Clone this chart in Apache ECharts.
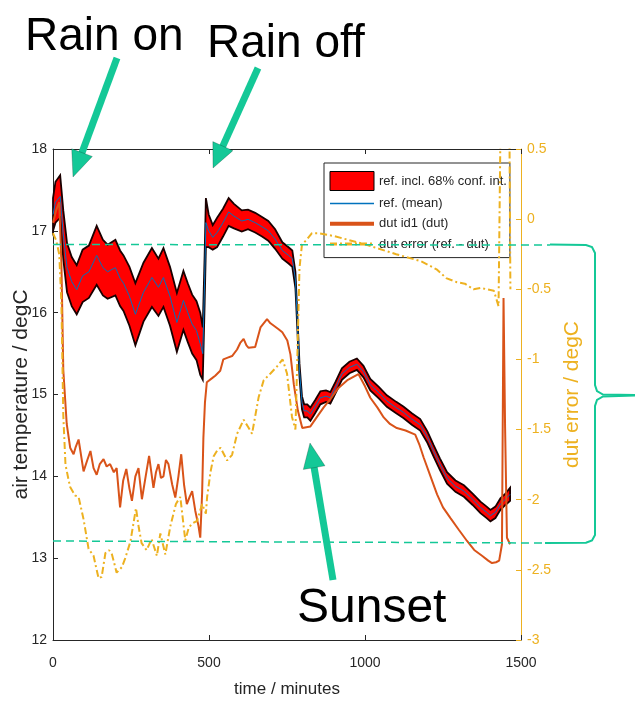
<!DOCTYPE html>
<html><head><meta charset="utf-8">
<script src="https://cdn.jsdelivr.net/npm/echarts@6/dist/echarts.min.js"></script>
<style>html,body{margin:0;padding:0;background:#fff}#c{width:635px;height:702px}</style>
</head><body><div id="c"></div>
<script>
// ---- data ----
const refTime = [0,8,23,33,45,60,76,95,115,140,160,175,200,215,226,245,264,290,317,338,354,375,397,418,432,446,460,472,480,486,490,499,512,526,545,563,580,605,625,648,670,690,712,735,755,767,777,783,790,798,805,815,825,840,857,875,889,905,926,950,974,995,1017,1045,1070,1100,1124,1150,1177,1200,1220,1240,1263,1290,1317,1345,1370,1390,1402,1418,1434,1450,1465];
const refMean = [17.2,17.35,17.42,16.95,16.55,16.38,16.28,16.45,16.5,16.7,16.55,16.5,16.55,16.42,16.36,16.2,15.98,16.25,16.43,16.31,16.43,16.2,15.88,16.15,16.0,15.86,15.78,15.62,15.5,16.4,17.1,17.0,16.92,16.98,17.1,17.23,17.18,17.12,17.14,17.1,17.05,17.0,16.9,16.76,16.7,16.66,16.4,15.9,15.3,14.9,14.8,14.8,14.76,14.85,14.96,14.98,14.96,15.08,15.25,15.33,15.37,15.28,15.12,15.02,14.92,14.84,14.78,14.7,14.63,14.48,14.31,14.15,13.98,13.88,13.82,13.72,13.62,13.56,13.52,13.56,13.66,13.72,13.78];
const refHalfWidth = [0.2,0.25,0.26,0.3,0.3,0.3,0.3,0.32,0.32,0.36,0.34,0.33,0.34,0.34,0.34,0.36,0.38,0.36,0.36,0.35,0.36,0.36,0.36,0.36,0.36,0.36,0.36,0.38,0.32,0.3,0.3,0.2,0.15,0.18,0.17,0.17,0.15,0.13,0.12,0.12,0.12,0.12,0.12,0.1,0.1,0.1,0.1,0.09,0.08,0.08,0.08,0.08,0.08,0.08,0.08,0.07,0.07,0.07,0.07,0.07,0.07,0.07,0.07,0.07,0.07,0.07,0.07,0.07,0.07,0.07,0.07,0.07,0.07,0.07,0.07,0.07,0.07,0.07,0.07,0.07,0.07,0.07,0.08];

const dutTime = [0,10,20,27,33,44,55,66,72,82,98,110,120,130,140,150,162,172,183,195,204,215,225,235,245,253,264,274,285,297,308,322,330,338,346,354,362,370,382,392,402,411,420,429,438,446,456,466,472,478,482,487,493,510,520,536,546,560,574,590,600,611,620,627,648,665,686,697,708,722,735,751,761,772,785,799,812,825,845,867,890,915,945,979,1000,1017,1040,1060,1080,1102,1130,1161,1175,1188,1210,1231,1250,1274,1300,1327,1350,1375,1395,1407,1420,1430,1439,1444,1449,1455,1465];
const dutTemp = [17.1,17.25,17.35,16.6,15.3,14.64,14.35,14.27,14.35,14.45,14.06,14.2,14.31,14.1,14.02,14.15,14.21,14.12,14.15,14.05,14.1,13.62,13.95,14.09,13.85,13.7,14.0,14.1,13.72,14.0,14.25,13.86,14.05,14.15,13.98,14.0,14.2,14.15,13.9,13.74,14.0,14.27,13.9,13.66,13.75,13.82,13.58,13.4,13.25,13.8,14.47,14.9,15.15,15.2,15.23,15.29,15.43,15.45,15.47,15.55,15.63,15.68,15.6,15.57,15.58,15.82,15.92,15.87,15.84,15.8,15.76,15.66,15.49,15.12,14.8,14.59,14.6,14.61,14.72,14.84,14.95,15.08,15.18,15.25,15.1,14.96,14.84,14.72,14.64,14.59,14.56,14.51,14.38,14.23,14.0,13.78,13.62,13.49,13.35,13.21,13.1,13.03,12.97,12.94,12.95,12.97,13.17,16.18,14.6,13.25,13.17];

const errTime = [0,10,20,27,33,40,50,55,71,82,98,114,130,146,156,168,180,189,204,221,231,248,266,275,284,300,316,333,344,360,376,394,408,424,435,446,462,478,490,494,505,515,526,537,558,574,590,611,625,638,659,675,697,718,736,750,766,777,783,790,798,812,830,850,900,1000,1100,1180,1231,1260,1295,1320,1348,1370,1391,1413,1428,1436,1462,1466];
const errValue = [-0.1,-0.15,-0.25,-0.6,-1.4,-1.75,-1.86,-1.91,-1.97,-1.98,-2.14,-2.35,-2.4,-2.56,-2.55,-2.38,-2.36,-2.39,-2.52,-2.48,-2.42,-2.3,-2.06,-2.2,-2.31,-2.36,-2.28,-2.4,-2.24,-2.39,-2.19,-2.03,-1.98,-2.29,-2.2,-2.17,-2.15,-2.03,-2.1,-1.98,-1.8,-1.69,-1.65,-1.63,-1.72,-1.68,-1.53,-1.43,-1.48,-1.53,-1.27,-1.15,-1.1,-1.05,-1.0,-1.1,-1.41,-1.5,-1.0,-0.35,-0.18,-0.15,-0.1,-0.1,-0.12,-0.18,-0.25,-0.3,-0.36,-0.42,-0.45,-0.46,-0.5,-0.49,-0.5,-0.51,-0.62,1.0,1.0,-0.5];

const leftTicks = {min: 12, max: 18, step: 1};
const rightTicks = {min: -3, max: 0.5, step: 0.5};
const timeTicks = {min: 0, max: 1500, step: 500};
const legendNames = ['ref. incl. 68% conf. int.', 'ref. (mean)', 'dut id1 (dut)', 'dut error (ref. - dut)'];
const notes = ['Rain on', 'Rain off', 'Sunset'];

// ---- chart ----
const TXT = '#262626', YEL = '#EDB120', ORG = '#D95319', BLU = '#0072BD', GRN = '#14C897';
const SANS = "'Liberation Sans',Arial,sans-serif";

const bandData = refTime.map((t, i) => [t, refMean[i] - refHalfWidth[i], refMean[i] + refHalfWidth[i]]);

function arrow(tail, tip, headLen, halfW) {
  const dx = tip[0] - tail[0], dy = tip[1] - tail[1];
  const L = Math.hypot(dx, dy), ux = dx / L, uy = dy / L;
  const bx = tip[0] - ux * headLen, by = tip[1] - uy * headLen;
  const px = -uy * halfW, py = ux * halfW;
  return [
    {type: 'line', shape: {x1: tail[0], y1: tail[1], x2: bx + ux * 2, y2: by + uy * 2}, style: {stroke: GRN, lineWidth: 7}, z: 100},
    {type: 'polygon', shape: {points: [[tip[0], tip[1]], [bx + px, by + py], [bx - px, by - py]]}, style: {fill: GRN, stroke: 'rgba(0,0,0,0.35)', lineWidth: 0.6}, z: 101}
  ];
}

const chart = echarts.init(document.getElementById('c'), null, {renderer: 'canvas'});
const axisCommon = {splitLine: {show: false}};
const hiddenSymbol = {opacity: 0, borderWidth: 0};
chart.setOption({
  backgroundColor: '#fff',
  animation: false,
  grid: {left: 53, right: 114, top: 149, bottom: 62, containLabel: false, outerBoundsMode: 'none'},
  legend: {
    orient: 'vertical', left: 324, top: 163, padding: [8, 3, 6, 4], itemGap: 5, itemWidth: 44, itemHeight: 19,
    backgroundColor: '#fff', borderColor: TXT, borderWidth: 1, borderRadius: 0, selectedMode: false,
    textStyle: {fontFamily: SANS, fontSize: 13, color: TXT},
    data: [
      {name: legendNames[0], icon: 'rect', itemStyle: {color: '#FF0000', borderColor: '#000', borderWidth: 1}},
      {name: legendNames[1], lineStyle: {width: 1.5}, itemStyle: hiddenSymbol},
      {name: legendNames[2], lineStyle: {width: 4}, itemStyle: hiddenSymbol},
      {name: legendNames[3], lineStyle: {width: 3}, itemStyle: hiddenSymbol}
    ]
  },
  xAxis: [
    Object.assign({type: 'value', position: 'bottom', min: timeTicks.min, max: timeTicks.max, interval: timeTicks.step,
      name: 'time / minutes', nameLocation: 'middle', nameGap: 41, nameMoveOverlap: false,
      nameTextStyle: {fontFamily: SANS, fontSize: 17, color: TXT},
      axisLine: {show: true, onZero: false, lineStyle: {color: TXT, width: 1}},
      axisTick: {show: true, inside: true, length: 5, lineStyle: {color: TXT}},
      axisLabel: {color: TXT, fontFamily: SANS, fontSize: 14, margin: 16, formatter: v => String(v)}}, axisCommon),
    Object.assign({type: 'value', position: 'top', min: timeTicks.min, max: timeTicks.max, interval: timeTicks.step,
      axisLine: {show: true, onZero: false, lineStyle: {color: TXT, width: 1}},
      axisTick: {show: true, inside: true, length: 5, lineStyle: {color: TXT}},
      axisLabel: {show: false}}, axisCommon)
  ],
  yAxis: [
    Object.assign({type: 'value', position: 'left', min: leftTicks.min, max: leftTicks.max, interval: leftTicks.step,
      name: 'air temperature / degC', nameLocation: 'middle', nameGap: 21, nameRotate: 90, nameMoveOverlap: false,
      nameTextStyle: {fontFamily: SANS, fontSize: 21, color: TXT},
      axisLine: {show: true, onZero: false, lineStyle: {color: TXT, width: 1}},
      axisTick: {show: true, inside: true, length: 5, lineStyle: {color: TXT}},
      axisLabel: {color: TXT, fontFamily: SANS, fontSize: 14, margin: 6}}, axisCommon),
    Object.assign({type: 'value', position: 'right', min: rightTicks.min, max: rightTicks.max, interval: rightTicks.step,
      name: 'dut error / degC', nameLocation: 'middle', nameGap: 34, nameRotate: 90,
      nameTextStyle: {fontFamily: SANS, fontSize: 21, color: YEL},
      axisLine: {show: true, onZero: false, lineStyle: {color: YEL, width: 1}},
      axisTick: {show: true, inside: true, length: 5, lineStyle: {color: YEL}},
      axisLabel: {color: YEL, fontFamily: SANS, fontSize: 14, margin: 6}}, axisCommon)
  ],
  series: [
    {
      type: 'custom', name: legendNames[0], xAxisIndex: 0, yAxisIndex: 0,
      data: bandData, encode: {x: 0, y: [1, 2]}, itemStyle: {color: '#FF0000'}, z: 2,
      renderItem: function (params, api) {
        if (params.dataIndex !== 0) return null;
        const up = [], lo = [];
        bandData.forEach(d => { up.push(api.coord([d[0], d[2]])); lo.push(api.coord([d[0], d[1]])); });
        return {type: 'polygon', shape: {points: up.concat(lo.reverse())},
          style: {fill: '#FF0000', stroke: '#1a0000', lineWidth: 1.8}};
      }
    },
    {type: 'line', name: legendNames[1], xAxisIndex: 0, yAxisIndex: 0, data: refTime.map((t, i) => [t, refMean[i]]),
      symbol: 'none', lineStyle: {color: BLU, width: 1}, itemStyle: {color: BLU}, z: 3},
    {type: 'line', name: legendNames[2], xAxisIndex: 0, yAxisIndex: 0, data: dutTime.map((t, i) => [t, dutTemp[i]]),
      symbol: 'none', lineStyle: {color: ORG, width: 2}, itemStyle: {color: ORG}, z: 4},
    {type: 'line', name: legendNames[3], xAxisIndex: 0, yAxisIndex: 1, data: errTime.map((t, i) => [t, errValue[i]]),
      symbol: 'none', lineStyle: {color: YEL, width: 2, type: [7, 3, 2, 3]}, itemStyle: {color: YEL}, z: 5}
  ],
  graphic: [
    {type: 'text', left: 25, top: 14, style: {text: notes[0], font: '46px ' + SANS, fill: '#000'}, z: 100},
    {type: 'text', left: 207, top: 21, style: {text: notes[1], font: '46px ' + SANS, fill: '#000'}, z: 100},
    {type: 'text', left: 297, top: 585, style: {text: notes[2], font: '48px ' + SANS, fill: '#000'}, z: 100},
    {type: 'polyline', shape: {points: [[53, 244.5], [550, 245]]}, style: {stroke: GRN, lineWidth: 1.5, lineDash: [8, 5]}, z: 90},
    {type: 'polyline', shape: {points: [[53, 541], [545, 543]]}, style: {stroke: GRN, lineWidth: 1.5, lineDash: [8, 5]}, z: 90},
    {type: 'polyline', shape: {points: [[550, 244.5], [586, 245], [592, 247], [595, 253], [595, 385], [597, 391], [603, 394.5], [635, 395]]}, style: {stroke: GRN, lineWidth: 2, fill: null}, z: 90},
    {type: 'polyline', shape: {points: [[635, 395.5], [603, 396.5], [597, 400], [595, 406], [595, 535], [592, 540.5], [586, 542.8], [545, 543]]}, style: {stroke: GRN, lineWidth: 2, fill: null}, z: 90}
  ].concat(arrow([117, 58], [73, 177], 26, 11), arrow([258, 68], [213, 168], 24, 11), arrow([333, 580], [310, 443], 25, 11))
});
</script></body></html>
